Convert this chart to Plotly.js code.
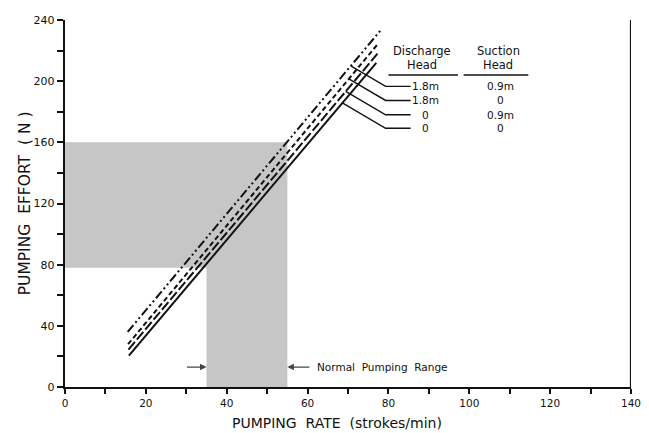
<!DOCTYPE html>
<html>
<head>
<meta charset="utf-8">
<script src="https://cdn.plot.ly/plotly-3.0.1.min.js"></script>
<style>html,body{margin:0;padding:0;background:#fff;}#chart{width:649px;height:433px;}</style>
</head>
<body>
<div id="chart"></div>
<script>
// ---- data ----
const seriesNames = ["1.8m / 0.9m", "1.8m / 0", "0 / 0.9m", "0 / 0"];
const dischargeHead = ["1.8m", "1.8m", "0", "0"];
const suctionHead = ["0.9m", "0", "0.9m", "0"];
const rateStart = [15.5, 15.6, 15.7, 15.8];
const rateEnd = [78.0, 77.6, 77.3, 77.0];
const effortStart = [36, 28, 24.5, 20.5];
const effortEnd = [233, 225, 218, 212];
const dashes = ["9px,3px,2px,3px,2px,3px", "5px,3px", "10px,3px", "solid"];
const labelRowEffort = [196.6, 187.4, 178.0, 169.2];
const normalRateLow = 35, normalRateHigh = 55;
const normalEffortLow = 78, normalEffortHigh = 160;
const xTicks = [0, 20, 40, 60, 80, 100, 120, 140];
const yTicks = [0, 40, 80, 120, 160, 200, 240];

const font = "DejaVu Sans, sans-serif";
const traces = [];

// shaded region
traces.push({
  x: [0, normalRateHigh, normalRateHigh, normalRateLow, normalRateLow, 0, 0],
  y: [normalEffortHigh, normalEffortHigh, 0, 0, normalEffortLow, normalEffortLow, normalEffortHigh],
  mode: "lines", fill: "toself", fillcolor: "#c6c6c6",
  line: {width: 0, color: "#c6c6c6"}, hoverinfo: "skip", showlegend: false
});

for (let i = 0; i < seriesNames.length; i++) {
  traces.push({
    x: [rateStart[i], rateEnd[i]], y: [effortStart[i], effortEnd[i]],
    mode: "lines", name: seriesNames[i], showlegend: false,
    line: {color: "#111", width: 2, dash: dashes[i]}
  });
}

// leader lines: from each series line down-right to the label row
const bendX = 79.3, endX = 85.5;
const leaderSlope = -1.55;
for (let i = 0; i < seriesNames.length; i++) {
  const m = (effortEnd[i] - effortStart[i]) / (rateEnd[i] - rateStart[i]);
  const row = labelRowEffort[i];
  const xs = (row - leaderSlope * bendX - effortStart[i] + m * rateStart[i]) / (m - leaderSlope);
  const ys = effortStart[i] + m * (xs - rateStart[i]);
  traces.push({
    x: [xs, bendX, endX], y: [ys, row, row], mode: "lines",
    line: {color: "#111", width: 1.4}, showlegend: false, hoverinfo: "skip"
  });
}

const annotations = [];
function txt(x, y, t, size, xanchor) {
  annotations.push({x: x, y: y, xref: "x", yref: "y", text: t, showarrow: false,
    font: {family: font, size: size || 11, color: "#111"}, xanchor: xanchor || "center", yanchor: "middle"});
}
txt(88.4, 219.5, "Discharge", 11.5);
txt(88.4, 210.3, "Head", 11.5);
txt(107.2, 219.5, "Suction", 11.5);
txt(107.2, 210.3, "Head", 11.5);
for (let i = 0; i < seriesNames.length; i++) {
  txt(89.2, labelRowEffort[i], dischargeHead[i], 10.5);
  txt(107.8, labelRowEffort[i], suctionHead[i], 10.5);
}
txt(61.8, 13, "Normal  Pumping  Range", 10.5, "left");

// arrows for normal pumping range
annotations.push({x: normalRateLow, y: 13, ax: normalRateLow - 5.2, ay: 13, axref: "x", ayref: "y",
  xref: "x", yref: "y", showarrow: true, arrowhead: 2, arrowsize: 1, arrowwidth: 1.3, text: "", standoff: 0});
annotations.push({x: normalRateHigh, y: 13, ax: normalRateHigh + 5.8, ay: 13, axref: "x", ayref: "y",
  xref: "x", yref: "y", showarrow: true, arrowhead: 2, arrowsize: 1, arrowwidth: 1.3, text: "", standoff: 0});

// axis titles placed to match reference
annotations.push({xref: "paper", yref: "paper", x: 0.48, y: -0.097, xanchor: "center", yanchor: "middle",
  showarrow: false, text: "PUMPING  RATE  (strokes/min)", font: {family: font, size: 14, color: "#111"}});
annotations.push({xref: "paper", yref: "paper", x: -0.071, y: 0.5, xanchor: "center", yanchor: "middle",
  showarrow: false, textangle: -90, text: "PUMPING  EFFORT  ( N )", font: {family: font, size: 15.5, color: "#111"}});

const shapes = [
  {type: "line", xref: "x", yref: "y", x0: 80, x1: 97.2, y0: 204, y1: 204, line: {color: "#111", width: 1.4}},
  {type: "line", xref: "x", yref: "y", x0: 98.6, x1: 114.6, y0: 204, y1: 204, line: {color: "#111", width: 1.4}},
  {type: "line", xref: "x", yref: "y", x0: 140, x1: 140, y0: 0, y1: 240, line: {color: "#111", width: 2.2}}
];

const layout = {
  width: 649, height: 433,
  margin: {l: 65, r: 18, t: 20, b: 46},
  paper_bgcolor: "#fff", plot_bgcolor: "#fff",
  font: {family: font, color: "#111"},
  xaxis: {
    range: [0, 140], tickvals: xTicks, ticktext: xTicks.map(String),
    ticks: "outside", ticklen: 5, tickwidth: 2, tickcolor: "#111",
    minor: {dtick: 10, ticks: "outside", ticklen: 5, tickwidth: 2, tickcolor: "#111"},
    showline: true, linecolor: "#111", linewidth: 2.2, showgrid: false, zeroline: false,
    tickfont: {family: font, size: 10.5, color: "#111"}
  },
  yaxis: {
    range: [0, 240], tickvals: yTicks, ticktext: yTicks.map(String),
    ticks: "outside", ticklen: 6, tickwidth: 2, tickcolor: "#111",
    minor: {dtick: 20, ticks: "outside", ticklen: 6, tickwidth: 2, tickcolor: "#111"},
    showline: true, linecolor: "#111", linewidth: 2.2, showgrid: false, zeroline: false,
    tickfont: {family: font, size: 11, color: "#111"}
  },
  showlegend: false,
  annotations: annotations,
  shapes: shapes
};

Plotly.newPlot("chart", traces, layout, {displayModeBar: false, staticPlot: true});
</script>
</body>
</html>
